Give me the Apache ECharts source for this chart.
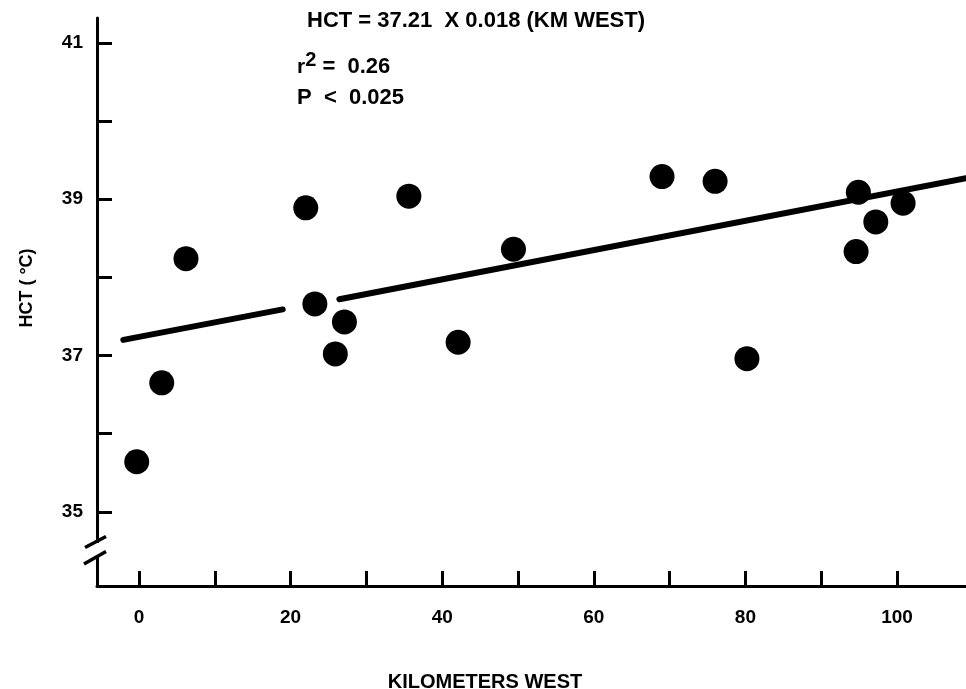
<!DOCTYPE html>
<html>
<head>
<meta charset="utf-8">
<script src="https://cdn.jsdelivr.net/npm/echarts@6/dist/echarts.min.js"></script>
<style>
html,body{margin:0;padding:0;background:#fff;}
#chart{width:966px;height:689px;}
</style>
</head>
<body>
<div id="chart"></div>
<script>
// ---- data ----
var kmWest = [-0.3, 3.0, 6.2, 22.0, 23.2, 27.1, 25.9, 35.6, 49.4, 42.1, 69.0, 76.0, 80.2, 94.9, 94.6, 97.2, 100.8];
var hct    = [35.64, 36.65, 38.24, 38.89, 37.66, 37.43, 37.02, 39.04, 38.36, 37.17, 39.29, 39.23, 36.96, 39.09, 38.33, 38.71, 38.95];

// regression line as drawn (two segments, gap near 20-26 km)
var fitSeg1X = [-2.07, 18.96];
var fitSeg1Y = [37.20, 37.59];
var fitSeg2X = [26.43, 109.1];
var fitSeg2Y = [37.72, 39.27];

var xTicks  = [0, 10, 20, 30, 40, 50, 60, 70, 80, 90, 100];
var xLabels = [0, 20, 40, 60, 80, 100];
var yTicks  = [35, 36, 37, 38, 39, 40, 41];
var yLabels = [35, 37, 39, 41];

var annotation1 = 'HCT = 37.21  X 0.018 (KM WEST)';
var r2Value = '0.26';
var pValue = '0.025';
var xName = 'KILOMETERS WEST';
var yName = 'HCT ( \u00B0C)';

// ---- chart ----
var FONT = '"Liberation Sans", Arial, Helvetica, sans-serif';
var pts = kmWest.map(function (x, i) { return [x, hct[i]]; });
var seg1 = fitSeg1X.map(function (x, i) { return [x, fitSeg1Y[i]]; });
var seg2 = fitSeg2X.map(function (x, i) { return [x, fitSeg2Y[i]]; });

var chart = echarts.init(document.getElementById('chart'), null, {renderer: 'canvas'});
var axisCommon = {
  type: 'value',
  axisLine: {show: true, onZero: false, lineStyle: {color: '#000', width: 3}},
  splitLine: {show: false},
};
var lineStyle = {color: '#000', width: 6, cap: 'round'};
chart.setOption({
  animation: false,
  backgroundColor: '#fff',
  grid: {left: 97, right: 0, top: 18, bottom: 103},
  xAxis: Object.assign({}, axisCommon, {
    min: -5.54, max: 109.1,
    axisTick: {show: true, inside: true, length: 15, lineStyle: {color: '#000', width: 3}, customValues: xTicks},
    axisLabel: {customValues: xLabels, color: '#000', fontSize: 19, fontWeight: 'bold', fontFamily: FONT, margin: 22}
  }),
  yAxis: Object.assign({}, axisCommon, {
    min: 34.05, max: 41.32,
    axisTick: {show: true, inside: true, length: 15, lineStyle: {color: '#000', width: 3}, customValues: yTicks},
    axisLabel: {customValues: yLabels, color: '#000', fontSize: 19, fontWeight: 'bold', fontFamily: FONT, margin: 14}
  }),
  series: [
    {type: 'line', data: seg1, symbol: 'none', lineStyle: lineStyle, z: 2},
    {type: 'line', data: seg2, symbol: 'none', lineStyle: lineStyle, z: 2},
    {type: 'scatter', data: pts, symbol: 'circle', symbolSize: 25, itemStyle: {color: '#000', opacity: 1}, z: 3}
  ],
  graphic: [
    // axis break
    {type: 'rect', shape: {x: 93, y: 543, width: 8, height: 13}, style: {fill: '#fff'}, z: 100},
    {type: 'line', shape: {x1: 85, y1: 547.5, x2: 106, y2: 536.5}, style: {stroke: '#000', lineWidth: 3.5}, z: 101},
    {type: 'line', shape: {x1: 84, y1: 564, x2: 106, y2: 551.5}, style: {stroke: '#000', lineWidth: 3.5}, z: 101},
    // annotations
    {type: 'text', left: 307, top: 10, z: 50,
      style: {text: annotation1, font: 'bold 22px ' + FONT, fill: '#000'}},
    {type: 'text', left: 297, top: 50, z: 50,
      style: {text: '{r|r}{s|2}{t| =  ' + r2Value + '}', fill: '#000',
        rich: {
          r: {font: 'bold 21px ' + FONT, fill: '#000', verticalAlign: 'bottom'},
          s: {font: 'bold 20px ' + FONT, fill: '#000', verticalAlign: 'top', padding: [0, 0, 8, 0]},
          t: {font: 'bold 22px ' + FONT, fill: '#000', verticalAlign: 'bottom'}
        }}},
    {type: 'text', left: 297, top: 87, z: 50,
      style: {text: 'P  <  ' + pValue, font: 'bold 22px ' + FONT, fill: '#000'}},
    // axis names
    {type: 'text', x: 27, y: 288, rotation: Math.PI / 2, z: 50,
      style: {text: yName, font: 'bold 18px ' + FONT, fill: '#000', textAlign: 'center', textVerticalAlign: 'middle'}},
    {type: 'text', x: 485, y: 682, z: 50,
      style: {text: xName, font: 'bold 20px ' + FONT, fill: '#000', textAlign: 'center', textVerticalAlign: 'middle'}}
  ]
});
</script>
</body>
</html>
